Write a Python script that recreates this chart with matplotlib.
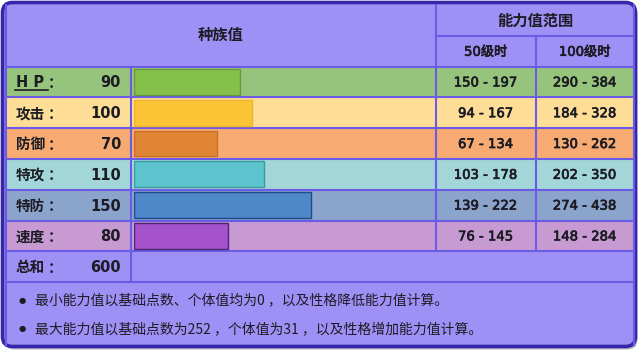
import matplotlib.pyplot as plt
from matplotlib.patches import Rectangle, FancyBboxPatch
import matplotlib.patheffects as pe

plt.rcParams['font.family'] = ['DejaVu Sans', 'Noto Sans CJK SC']

# data
stat_names = ['H P', '攻击', '防御', '特攻', '特防', '速度']
base_stats = [90, 100, 70, 110, 150, 80]
total_name = '总和'
total_stat = 600
range_lv50 = ['150 - 197', '94 - 167', '67 - 134', '103 - 178', '139 - 222', '76 - 145']
range_lv100 = ['290 - 384', '184 - 328', '130 - 262', '202 - 350', '274 - 438', '148 - 284']
header_main = '种族值'
header_range = '能力值范围'
header_levels = ['50级时', '100级时']
notes = ['最小能力值以基础点数、个体值均为0 ，以及性格降低能力值计算。',
         '最大能力值以基础点数为252 ，个体值为31 ，以及性格增加能力值计算。']

# colours
lav = '#9f90f6'
grid = '#6a5ce6'
frame = '#3626a8'
txt = '#1c1c24'
row_colors = ['#97c47c', '#fedd96', '#f7ab73', '#a2d6d8', '#8ba4cc', '#c79ad2']
bar_colors = ['#86c04c', '#fbc437', '#e08534', '#5cc4cc', '#4f88c8', '#a553cc']
bar_edges = ['#6b9a3b', '#f0b428', '#c87028', '#3a9aa0', '#1f4a8a', '#4a2570']

# layout (pixels)
x0, x1, x2, x3, x4 = 5.5, 131, 436, 535.5, 634
y_top, y_mid, y_rows = 4.5, 36, 66.5
pitch = 30.8
y_total_bot = y_rows + pitch * 7
y_bot = 345

fig = plt.figure(figsize=(6.4, 3.52), dpi=100)
ax = fig.add_axes([0, 0, 1, 1])
ax.set_xlim(0, 640)
ax.set_ylim(352, 0)
ax.axis('off')

# shadow + frame
ax.add_patch(FancyBboxPatch((4.5, 4.5), 633, 345, boxstyle='round,pad=0,rounding_size=10',
                            fc='#b8b8c8', ec='none'))
ax.add_patch(FancyBboxPatch((2.5, 2.5), 633, 344, boxstyle='round,pad=0,rounding_size=10',
                            fc=lav, ec=frame, lw=2.6))

# row backgrounds
for i, c in enumerate(row_colors):
    ax.add_patch(Rectangle((x0, y_rows + i * pitch), x4 - x0, pitch, fc=c, ec='none'))

# grid lines
lw = 1.5
for k in range(8):
    y = y_rows + k * pitch
    ax.plot([x0, x4], [y, y], color=grid, lw=lw)
ax.plot([x2, x4], [y_mid, y_mid], color=grid, lw=lw)
ax.plot([x1, x1], [y_rows, y_total_bot], color=grid, lw=lw)
ax.plot([x2, x2], [y_top, y_rows + 6 * pitch], color=grid, lw=lw)
ax.plot([x3, x3], [y_mid, y_rows + 6 * pitch], color=grid, lw=lw)
ax.plot([x0, x0], [y_top, y_bot], color=grid, lw=lw)
ax.plot([x4, x4], [y_top, y_bot], color=grid, lw=lw)

thick = [pe.withStroke(linewidth=0.5, foreground=txt)]

# header text
ax.text((x0 + x2) / 2, (y_top + y_rows) / 2, header_main, ha='center', va='center',
        fontsize=11, fontweight='bold', color=txt)
ax.text((x2 + x4) / 2, (y_top + y_mid) / 2 + 1, header_range, ha='center', va='center',
        fontsize=11, fontweight='bold', color=txt)
ax.text((x2 + x3) / 2, (y_mid + y_rows) / 2 + 1, header_levels[0], ha='center', va='center',
        fontsize=9.5, color=txt, path_effects=thick)
ax.text((x3 + x4) / 2, (y_mid + y_rows) / 2 + 1, header_levels[1], ha='center', va='center',
        fontsize=9.5, color=txt, path_effects=thick)

# label column
labels = stat_names + [total_name]
values = base_stats + [total_stat]
for i, (name, v) in enumerate(zip(labels, values)):
    yc = y_rows + (i + 0.5) * pitch
    ax.text(16, yc + 1, name, ha='left', va='center', fontsize=10.5, fontweight='bold', color=txt)
    ax.text(55, yc + 1, '：', ha='center', va='center', fontsize=10.5, fontweight='bold',
            color=txt, family=['Noto Sans CJK SC'])
    ax.text(121, yc + 1, str(v), ha='right', va='center', fontsize=10.5, fontweight='bold', color=txt)
    if name == 'H P':
        ax.plot([15, 48], [yc + 8, yc + 8], color=txt, lw=1.2)

# ranges
for i in range(len(stat_names)):
    yc = y_rows + (i + 0.5) * pitch
    ax.text((x2 + x3) / 2, yc + 1, range_lv50[i], ha='center', va='center', fontsize=9.5,
            color=txt, path_effects=thick)
    ax.text((x3 + x4) / 2, yc + 1, range_lv100[i], ha='center', va='center', fontsize=9.5,
            color=txt, path_effects=thick)

# notes
for j, n in enumerate(notes):
    yn = 300 + j * 29
    ax.text(22, yn, '●', ha='center', va='center', fontsize=6, color=txt)
    ax.text(35, yn, n, ha='left', va='center', fontsize=10, color=txt,
            family=['Noto Sans CJK SC'])

# bars (stat scale 0-255 over the bar column)
bx0, bx1 = 134, 435
axb = fig.add_axes([bx0 / 640, 1 - (y_rows + 6 * pitch) / 352, (bx1 - bx0) / 640, 6 * pitch / 352])
axb.barh(range(len(base_stats)), base_stats, height=0.84, color=bar_colors,
         edgecolor=bar_edges, linewidth=1)
axb.set_xlim(0, 255)
axb.set_ylim(len(base_stats) - 0.5, -0.5)
axb.axis('off')
axb.patch.set_visible(False)

fig.savefig('out.png', dpi=100)
